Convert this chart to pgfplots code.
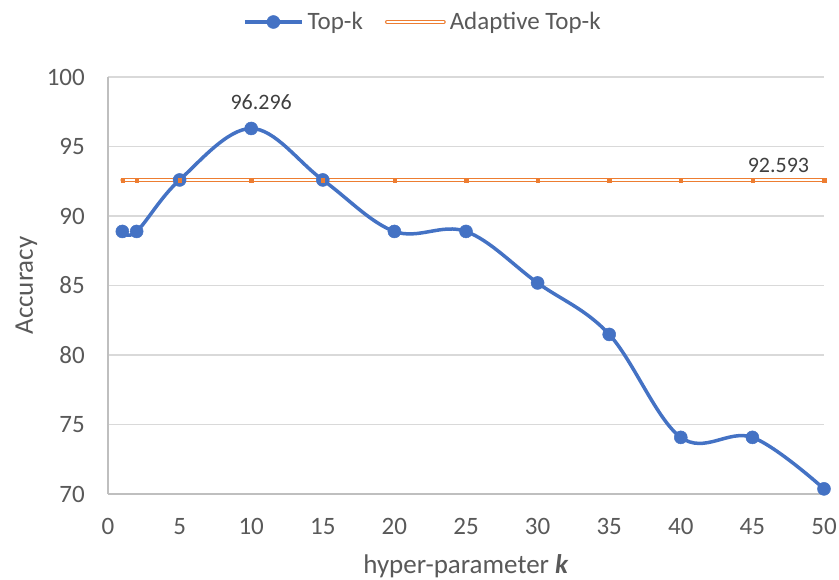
\documentclass[border=0pt]{standalone}
\usepackage{fontspec}
\setmainfont{Carlito}
\usepackage{pgfplots}
\pgfplotsset{compat=1.18}

\definecolor{topkblue}{RGB}{68,114,196}
\definecolor{adaorange}{RGB}{237,125,49}
\definecolor{labelgray}{RGB}{89,89,89}
\definecolor{valgray}{RGB}{64,64,64}
\definecolor{gridgray}{RGB}{217,217,217}
\definecolor{axisgray}{RGB}{191,191,191}

% legend samples: line with a centred mark, and a plain line
\pgfplotsset{
  marklegend/.style={legend image code/.code={\draw[mark repeat=2, mark phase=2, ##1]
    plot coordinates {(0bp,0bp) (28.5bp,0bp) (57bp,0bp)};}},
  linelegend/.style={legend image code/.code={\draw[##1] (0bp,0bp) -- (57bp,0bp);}},
}

\begin{document}
\begin{tikzpicture}
% fixed page frame around the plot area
\path[use as bounding box] (-108bp,-86bp) rectangle (731bp,494bp);
\begin{axis}[
  at={(0,0)}, anchor=south west,
  scale only axis, width=716bp, height=417bp,
  xmin=0, xmax=50, ymin=70, ymax=100,
  xtick={0,5,...,50}, ytick={70,75,...,100},
  axis lines=left,
  axis line style={draw=axisgray, line width=1.3bp, -},
  ymajorgrids,
  grid style={draw=gridgray, line width=1.2bp},
  major tick length=0pt,
  tick style={draw=none},
  clip=false,
  /pgf/number format/assume math mode=true,
  ticklabel style={font=\fontsize{25bp}{30bp}\selectfont, text=labelgray},
  xticklabel style={anchor=north, inner sep=0pt, yshift=-24bp},
  yticklabel style={anchor=east, inner sep=0pt, xshift=-23bp},
  xlabel={hyper-parameter \textbf{\textit{k}}},
  ylabel={Accuracy},
  xlabel style={at={(axis description cs:0.5,-0.1918)}, anchor=base,
    inner sep=0pt, font=\fontsize{27bp}{32bp}\selectfont, text=labelgray},
  ylabel style={at={(axis description cs:-0.10475,0.5)}, anchor=base,
    inner sep=0pt, font=\fontsize{27bp}{32bp}\selectfont, text=labelgray},
  legend style={at={(axis description cs:0.1885,1.1319)}, anchor=west,
    draw=none, fill=none, inner sep=0pt,
    font=\fontsize{25bp}{30bp}\selectfont, text=labelgray,
    nodes={inner sep=0pt},
    /tikz/every odd column/.append style={column sep=4bp},
    /tikz/every even column/.append style={column sep=22bp}},
  legend columns=2,
]

% Top-k accuracy for each k
\addplot[topkblue, line width=3.5bp, smooth, tension=0.6,
  mark=*, mark size=6.5bp,
  mark options={fill=topkblue, draw=topkblue, line width=0.5bp},
  marklegend]
  coordinates {
    (1,88.889) (2,88.889) (5,92.593) (10,96.296) (15,92.593) (20,88.889)
    (25,88.889) (30,85.185) (35,81.481) (40,74.074) (45,74.074) (50,70.370)
  };
\addlegendentry{Top-k}

% Adaptive Top-k: constant accuracy
\addplot[adaorange, line width=1.3bp, double=white, double distance=1.2bp,
  line cap=round, linelegend]
  coordinates {(1,92.593) (50,92.593)};
\addlegendentry{Adaptive Top-k}

\addplot[forget plot, adaorange, only marks, mark=square*, mark size=1.7bp,
  mark options={fill=adaorange, draw=adaorange, line width=0.2bp}]
  coordinates {
    (1,92.593) (2,92.593) (5,92.593) (10,92.593) (15,92.593) (20,92.593)
    (25,92.593) (30,92.593) (35,92.593) (40,92.593) (45,92.593) (50,92.593)
  };

% value labels
\node[anchor=base, inner sep=0pt, text=valgray,
  font=\fontsize{22bp}{26bp}\selectfont, xshift=10bp, yshift=18.5bp]
  at (axis cs:10,96.296) {96.296};
\node[anchor=base, inner sep=0pt, text=valgray,
  font=\fontsize{22bp}{26bp}\selectfont, yshift=7bp]
  at (axis cs:46.82,92.593) {92.593};
\end{axis}
\end{tikzpicture}
\end{document}
